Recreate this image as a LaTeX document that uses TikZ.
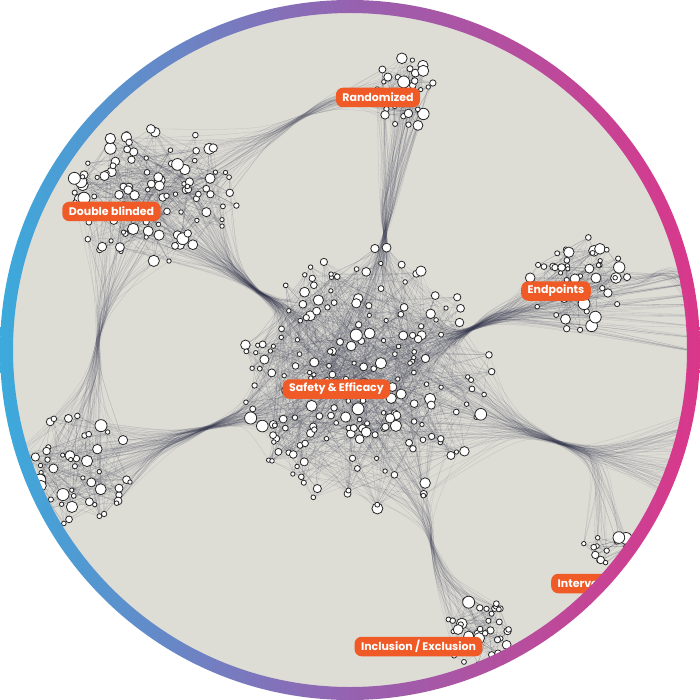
\documentclass[tikz,border=0pt]{standalone}
\usepackage{fontspec}
\newfontfamily\tagfont{Poppins}

\definecolor{paper}{RGB}{221,220,213}
\definecolor{wirec}{RGB}{58,60,84}
\definecolor{tagc}{RGB}{240,90,38}
\definecolor{ringl}{RGB}{60,170,220}
\definecolor{ringm}{RGB}{150,98,176}
\definecolor{ringr}{RGB}{218,55,138}

\tikzset{
  dot/.style={circle, fill=white, draw=black!85, line width=0.8pt, inner sep=0pt},
  spot/.style={circle, inner sep=0pt},
  link/.style={draw=wirec, line width=0.3pt, draw opacity=0.24},
  wire/.style={draw=wirec, line width=0.3pt, draw opacity=0.17},
  tag/.style={fill=tagc, text=white, rounded corners=7pt,
    font=\tagfont\bfseries\fontsize{11}{12}\selectfont,
    inner xsep=6.5pt, inner ysep=0pt, minimum height=19.5pt}
}

% name/centre x/centre y/radius x/radius y/number of dots
\def\clusters{s/367/378/126/132/205, d/155/198/86/72/105, r/406/92/34/37/38,
  e/578/283/50/48/55, l/72/468/60/56/55, i/478/632/34/35/38, v/605/548/26/22/14}

% same seed twice: first pass names the spots, second pass draws the dots on top
\newcommand\dotcloud[1]{%
  \pgfmathsetseed{2024}%
  \foreach \cl/\cx/\cy/\rx/\ry/\n in \clusters {%
    \foreach \k in {1,...,\n} {%
      \pgfmathsetmacro\ang{360*rnd}%
      \pgfmathsetmacro\rad{rnd^0.6}%
      \pgfmathsetmacro\sz{4.3+8*rnd^2}%
      \node[#1, minimum size=\sz pt] (\cl\k) at ({\cx+\rx*\rad*cos(\ang)},{\cy+\ry*\rad*sin(\ang)}) {};%
    }%
  }%
}

\begin{document}
\begin{tikzpicture}[x=1pt, y=-1pt]
    \useasboundingbox (0,0) rectangle (700,700);
    \fill[white] (0,0) rectangle (700,700);

    \begin{scope}
    \clip (350,350) circle[radius=345];
    \fill[paper] (350,350) circle[radius=345];

    \dotcloud{spot}

    % hubs where the bundles pinch (a = source side, b = target side)
    \coordinate (hr) at (385,234);   \coordinate (hra) at (387,205);   \coordinate (hrb) at (382,262);
    \coordinate (hd) at (258,292);   \coordinate (hda) at (232,270);   \coordinate (hdb) at (286,310);
    \coordinate (hl) at (207,428);   \coordinate (hla) at (172,440);   \coordinate (hlb) at (244,416);
    \coordinate (he) at (473,328);   \coordinate (hea) at (450,340);   \coordinate (heb) at (500,314);
    \coordinate (hx) at (560,443);   \coordinate (hxa) at (520,428);   \coordinate (hxb) at (598,456);
    \coordinate (hi) at (432,545);   \coordinate (hia) at (425,512);   \coordinate (hib) at (443,580);
    \coordinate (hdl) at (98,340);   \coordinate (hdla) at (104,302);  \coordinate (hdlb) at (95,380);
    \coordinate (hdr) at (300,118);  \coordinate (hdra) at (265,138);  \coordinate (hdrb) at (335,100);
    \coordinate (hq) at (655,275);   \coordinate (hqa) at (635,280);   \coordinate (hqb) at (675,272);
    % ends past the rim
    \foreach \k/\yy in {1/268,2/280,3/292,4/304,5/316,6/328,7/340,8/355}
      \coordinate (p\k) at (715,\yy);
    \foreach \k/\yy in {1/405,2/420,3/435,4/450,5/465,6/480,7/500,8/520}
      \coordinate (q\k) at (715,\yy);

    % links inside each cluster
    \foreach \cl/\cx/\cy/\rx/\ry/\n in \clusters {
      \foreach \k in {1,...,\n} {
        \foreach \m in {1,2,3} {
          \pgfmathrandominteger\ib{1}{\n}
          \ifnum\ib=\k\else\draw[link] (\cl\k) -- (\cl\ib);\fi
        }
      }
    }

    % bundles between clusters
    \foreach \fr/\nf/\dst/\nt/\h/\cnt in {r/38/s/205/hr/90, d/105/s/205/hd/110,
        l/55/s/205/hl/100, s/205/e/55/he/70, s/205/p/8/he/60, s/205/q/8/hx/70,
        s/205/v/14/hx/30, d/105/l/55/hdl/60, d/105/r/38/hdr/45,
        s/205/i/38/hi/50, e/55/p/8/hq/25} {
      \foreach \k in {1,...,\cnt} {
        \pgfmathrandominteger\ia{1}{\nf}
        \pgfmathrandominteger\ib{1}{\nt}
        \pgfmathsetmacro\jx{2*rand}
        \pgfmathsetmacro\jy{2*rand}
        \pgfmathsetmacro\ux{9*rand}
        \pgfmathsetmacro\uy{9*rand}
        \draw[wire] (\fr\ia) .. controls ([shift={(\ux,\uy)}]\h a) .. ([shift={(\jx,\jy)}]\h)
          .. controls ([shift={(-\ux,-\uy)}]\h b) .. (\dst\ib);
      }
    }

    \dotcloud{dot}

    \node[tag] (t-rand) at (378,97.5) {Randomized};
    \node[tag] (t-dbl) at (111.5,211.5) {Double blinded};
    \node[tag] (t-end) at (556,291) {Endpoints};
    \node[tag] (t-safe) at (336.5,389) {Safety \& Efficacy};
    \node[tag, anchor=west] (t-int) at (551,583.5) {Intervention};
    \node[tag] (t-incl) at (418.5,646.5) {Inclusion / Exclusion};
    \end{scope}

    % gradient rim
    \shade[even odd rule, left color=ringl, right color=ringr, middle color=ringm]
      (350,350) circle[radius=350] (350,350) circle[radius=337];
\end{tikzpicture}
\end{document}
